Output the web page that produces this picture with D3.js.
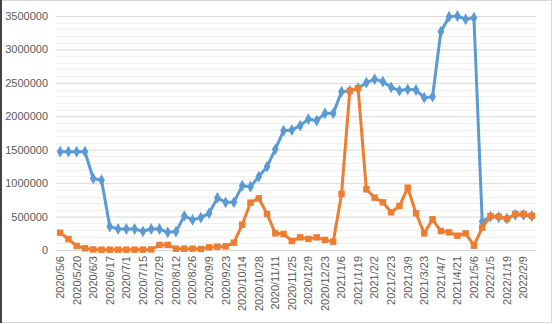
<!DOCTYPE html>
<html><head><meta charset="utf-8">
<script src="https://cdn.jsdelivr.net/npm/d3@7"></script>
<style>html,body{margin:0;padding:0;background:#fff;}svg{display:block;}</style>
</head><body>
<svg id="c" width="556" height="324"></svg>
<script>
const categories = ["2020/5/6","2020/5/13","2020/5/20","2020/5/27","2020/6/3","2020/6/10","2020/6/17","2020/6/24","2020/7/1","2020/7/8","2020/7/15","2020/7/22","2020/7/29","2020/8/5","2020/8/12","2020/8/19","2020/8/26","2020/9/2","2020/9/9","2020/9/16","2020/9/23","2020/9/30","2020/10/14","2020/10/21","2020/10/28","2020/11/4","2020/11/11","2020/11/18","2020/11/25","2020/12/2","2020/12/9","2020/12/16","2020/12/23","2020/12/30","2021/1/6","2021/1/13","2021/1/19","2021/1/26","2021/2/2","2021/2/9","2021/2/23","2021/3/2","2021/3/9","2021/3/16","2021/3/23","2021/3/30","2021/4/7","2021/4/14","2021/4/21","2021/4/28","2021/5/6","2021/5/12","2022/1/5","2022/1/12","2022/1/19","2022/1/26","2022/2/9","2022/2/16"];
const seriesBlue = [1470000,1470000,1470000,1470000,1070000,1045000,350000,314000,314000,314000,280000,314000,314000,265000,275000,510000,450000,485000,549000,780000,713000,713000,962000,947000,1097000,1246000,1506000,1785000,1795000,1860000,1959000,1934000,2044000,2044000,2368000,2380000,2420000,2503000,2555000,2518000,2433000,2383000,2403000,2393000,2278000,2293000,3265000,3490000,3500000,3450000,3475000,425000,500000,490000,470000,525000,525000,505000];
const seriesOrange = [259000,164000,60000,25000,8000,5000,5000,5000,5000,5000,5000,8000,75000,75000,20000,20000,20000,15000,40000,50000,55000,110000,379000,708000,773000,538000,249000,239000,135000,189000,165000,189000,150000,125000,838000,2380000,2420000,908000,783000,713000,564000,658000,932000,549000,249000,459000,284000,264000,214000,249000,65000,334000,508000,498000,464000,538000,538000,513000];
const yTicks = [0,500000,1000000,1500000,2000000,2500000,3000000,3500000];
const yMinorStep = 100000;

const svg = d3.select("#c");
const font = "'Liberation Sans', Arial, sans-serif";
// chart border
svg.append("rect").attr("x",0.5).attr("y",0.5).attr("width",551).attr("height",322)
  .attr("fill","#fff").attr("stroke","#d9d9d9");
svg.append("line").attr("x1",1).attr("x2",1).attr("y1",0).attr("y2",323).attr("stroke","#444").attr("stroke-width",2);

const x = d3.scaleBand().domain(categories).range([56,536]).paddingInner(0).paddingOuter(0);
const y = d3.scaleLinear().domain([0,3500000]).range([250,16]);
const cx = d => x(d) + x.bandwidth()/2;

// minor gridlines
const minor = d3.range(0, 3500001, yMinorStep).filter(v => v % 500000 !== 0);
svg.append("g").selectAll("line").data(minor).join("line")
  .attr("x1",56).attr("x2",536).attr("y1",d=>Math.round(y(d))+0.5).attr("y2",d=>Math.round(y(d))+0.5)
  .attr("stroke","#f0f0f0").attr("stroke-width",1);

// y axis (major gridlines + labels)
const yAxis = d3.axisLeft(y).tickValues(yTicks).tickSize(-480).tickPadding(8).tickFormat(d3.format("d"));
const gy = svg.append("g").attr("transform","translate(56,0)").call(yAxis);
gy.select(".domain").remove();
gy.selectAll(".tick line").attr("stroke","#d9d9d9");
gy.selectAll(".tick text").attr("fill","#595959").style("font-family",font).style("font-size","11px").attr("x",-8);

// x axis
const xAxis = d3.axisBottom(x).tickValues(categories.filter((d,i)=>i%2===0)).tickSize(0).tickPadding(0);
const gx = svg.append("g").attr("transform","translate(0,250)").call(xAxis);
gx.select(".domain").attr("stroke","#d9d9d9");
gx.selectAll(".tick text").attr("fill","#595959").style("font-family",font).style("font-size","11px")
  .attr("transform","rotate(-90)").attr("text-anchor","end").attr("x",-6).attr("y",0).attr("dy","0.35em");

function drawSeries(vals, color, shape, size){
  const line = d3.line().x((d,i)=>cx(categories[i])).y(d=>y(d));
  svg.append("path").datum(vals).attr("d",line).attr("fill","none").attr("stroke",color)
    .attr("stroke-width",3).attr("stroke-linejoin","round");
  svg.append("g").selectAll("path").data(vals).join("path")
    .attr("transform",(d,i)=>`translate(${cx(categories[i])},${y(d)})`)
    .attr("d",d3.symbol().type(shape).size(size)).attr("fill",color);
}
drawSeries(seriesBlue, "#5b9bd5", d3.symbolDiamond, 40);
drawSeries(seriesOrange, "#ed7d31", d3.symbolSquare, 42);
</script>
</body></html>
